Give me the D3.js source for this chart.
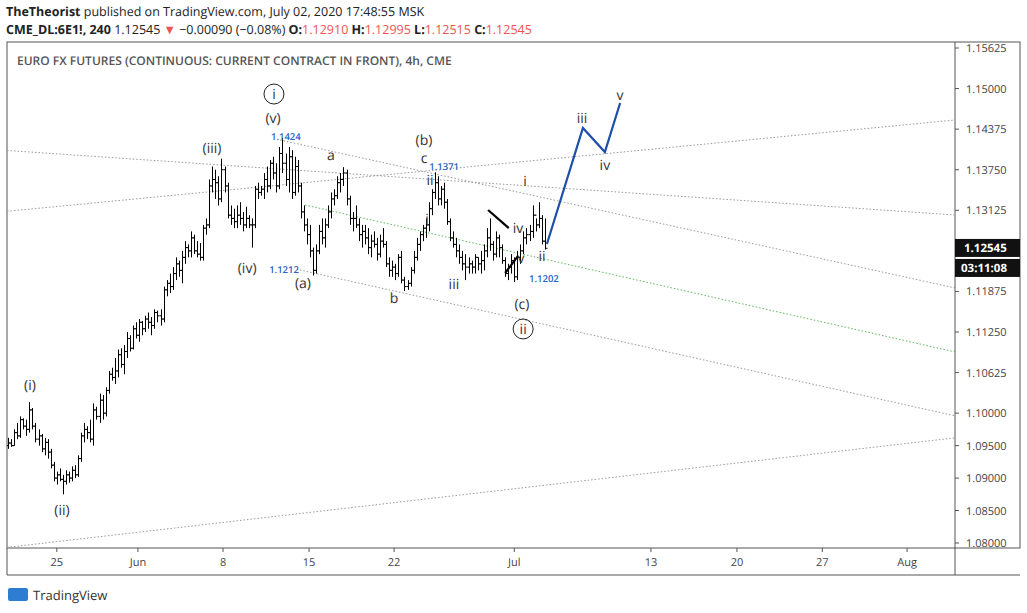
<!DOCTYPE html>
<html><head><meta charset="utf-8">
<script src="https://cdn.jsdelivr.net/npm/d3@7"></script>
<style>
body{margin:0;background:#fff;font-family:"Open Sans",sans-serif}
text{text-rendering:geometricPrecision}
</style></head>
<body><svg id="c" width="1027" height="613"></svg>
<script>
// bars in pips: [high, low, close]; open = previous close
var bars = [
[10962,10945,10954],[10960,10948,10950],[10975,10950,10970],[10985,10960,10965],[10995,10962,10990],[10992,10975,10980],[10990,10965,10975],[11017,10970,11005],
[11008,10975,10980],[10985,10955,10960],[10975,10950,10965],[10968,10940,10945],[10962,10935,10955],[10960,10930,10940],[10945,10915,10920],[10925,10895,10900],
[10910,10890,10905],[10915,10895,10898],[10905,10875,10895],[10912,10890,10905],[10910,10893,10900],[10918,10895,10912],[10920,10900,10905],[10935,10902,10930],
[10970,10925,10965],[10985,10955,10975],[10980,10960,10970],[10990,10955,10960],[11015,10950,11005],[11010,10990,10995],[11030,10985,11020],[11028,10990,11000],
[11040,10995,11035],[11065,11030,11060],[11070,11050,11055],[11085,11045,11065],[11098,11055,11090],[11100,11070,11075],[11105,11060,11095],[11125,11085,11115],
[11120,11095,11100],[11135,11098,11130],[11140,11115,11120],[11145,11110,11140],[11142,11120,11130],[11150,11125,11145],[11155,11130,11140],[11148,11120,11135],
[11160,11130,11155],[11158,11140,11150],[11160,11135,11145],[11195,11140,11190],[11205,11180,11200],[11215,11185,11195],[11225,11190,11215],[11240,11205,11230],
[11235,11210,11220],[11250,11200,11240],[11265,11230,11255],[11260,11240,11250],[11280,11240,11270],[11275,11245,11250],[11265,11240,11245],[11262,11235,11240],
[11290,11235,11285],[11300,11275,11290],[11360,11285,11350],[11380,11340,11360],[11375,11330,11355],[11365,11320,11330],[11392,11325,11375],[11380,11340,11350],
[11355,11300,11305],[11320,11290,11300],[11315,11285,11295],[11320,11285,11305],[11325,11290,11300],[11310,11280,11290],[11318,11285,11300],[11305,11285,11290],
[11300,11255,11290],[11350,11285,11345],[11355,11330,11340],[11350,11335,11345],[11370,11330,11360],[11380,11340,11350],[11390,11345,11385],[11395,11360,11370],
[11385,11340,11350],[11410,11345,11400],[11424,11370,11385],[11400,11350,11360],[11410,11340,11395],[11405,11330,11340],[11395,11335,11380],[11390,11340,11350],
[11355,11300,11310],[11320,11280,11290],[11300,11260,11275],[11290,11240,11250],[11255,11212,11220],[11260,11215,11250],[11290,11245,11280],[11300,11260,11270],
[11300,11255,11290],[11320,11285,11310],[11340,11300,11330],[11345,11320,11335],[11365,11330,11355],[11370,11340,11360],[11379,11350,11370],[11375,11320,11330],
[11335,11290,11300],[11310,11280,11300],[11320,11285,11290],[11300,11265,11275],[11290,11255,11280],[11290,11260,11270],[11285,11245,11255],[11275,11240,11265],
[11280,11255,11260],[11270,11235,11245],[11275,11240,11265],[11285,11255,11260],[11265,11225,11230],[11240,11210,11220],[11235,11210,11225],[11230,11205,11215],
[11245,11210,11240],[11250,11200,11205],[11210,11188,11195],[11205,11190,11200],[11225,11195,11220],[11250,11215,11240],[11270,11235,11260],[11280,11250,11275],
[11290,11265,11285],[11300,11270,11290],[11325,11280,11315],[11345,11305,11340],[11371,11330,11355],[11365,11320,11330],[11350,11320,11345],[11355,11315,11325],
[11330,11290,11295],[11300,11265,11270],[11280,11255,11260],[11270,11240,11250],[11260,11230,11240],[11250,11220,11230],[11245,11205,11225],[11240,11215,11230],
[11235,11215,11225],[11245,11215,11240],[11240,11220,11230],[11250,11215,11235],[11260,11220,11250],[11285,11240,11270],[11300,11250,11260],[11265,11235,11245],
[11280,11240,11270],[11275,11240,11255],[11260,11230,11235],[11240,11210,11215],[11230,11205,11225],[11245,11215,11235],[11240,11202,11210],[11250,11205,11240],
[11260,11230,11250],[11280,11245,11270],[11285,11260,11275],[11290,11265,11280],[11320,11270,11305],[11300,11280,11290],[11325,11285,11300],[11305,11260,11265],
[11300,11252,11254]
]
var firstOpen = 10950

var dateTicks = [[16,"25"],[42.6,"Jun"],[70.5,"8"],[98.7,"15"],[126.6,"22"],[166,"Jul"],[210.8,"13"],[239,"20"],[267,"27"],[294.8,"Aug"]]
var priceTicks = [1.15625,1.15,1.14375,1.1375,1.13125,1.11875,1.1125,1.10625,1.1,1.095,1.09,1.085,1.08]

// dotted channel lines [idx, price, idx, price, colour]
var trendLines = [
  [-2.6,1.14054,310.5,1.13053,"#999"],
  [-2.6,1.13099,310.5,1.14516,"#999"],
  [89.2,1.14208,310.5,1.11929,"#999"],
  [95.7,1.12206,310.5,1.09958,"#999"],
  [97.4,1.13207,310.5,1.10943,"#5cb85c"],
  [-2.6,1.07920,310.5,1.09620,"#999"]
]
var projection = [[176.7,1.12606],[188.5,1.14393],[195.7,1.14023],[200.7,1.14778]]
var triangle = [[[157.4,1.13130],[164.2,1.12850]],[[163,1.12159],[167.2,1.12420]]]

// wave labels [text, idx, price, kind]
var labels = [
  ["i",87.2,1.14916,"circle"],["(v)",86.9,1.14547],["(iii)",66.9,1.14085],["(iv)",78.4,1.12236],
  ["(i)",7.2,1.10434],["(ii)",17.7,1.08508],["a",105.9,1.13977],["(a)",96.7,1.12005],["b",126.6,1.11774],
  ["(b)",136.4,1.14200],["c",136.4,1.13931],["ii",138.4,1.13592],["i",137.4,1.12991],["iii",146.2,1.1199],
  ["iv",167.2,1.12852],["v",168.2,1.1239],["(c)",168.5,1.11682],["ii",168.9,1.11297,"circle"],
  ["i",169.5,1.13576],["ii",175.1,1.12421],["iii",188.2,1.14547],["iv",195.7,1.13823],["v",200.7,1.14901]
]
var priceTags = [["1.1424",91.1,1.14254],["1.1212",90.5,1.12205],["1.1371",143,1.13790],["1.1202",175.7,1.12067]]

var svg = d3.select("#c")
var L = 7, R = 955, B = 548
var x = d3.scaleLinear().domain([-0.33, 310.5]).range([L, R])
var y = d3.scaleLinear().domain([1.08, 1.15625]).range([543, 48])

// header
var hd = svg.append("text").attr("x", 6).attr("y", 16).attr("font-size", 12.5).attr("fill", "#222")
hd.append("tspan").attr("font-weight", "bold").text("TheTheorist")
hd.append("tspan").text(" published on TradingView.com, July 02, 2020 17:48:55 MSK")
var h2 = svg.append("text").attr("x", 6).attr("y", 34).attr("font-size", 12.5).attr("fill", "#222")
h2.append("tspan").attr("font-weight", "bold").text("CME_DL:6E1!, 240")
h2.append("tspan").text(" 1.12545 ")
h2.append("tspan").attr("fill", "#ef5350").text("▼")
h2.append("tspan").text(" −0.00090 (−0.08%) ")
;[["O:","1.12910"],["H:","1.12995"],["L:","1.12515"],["C:","1.12545"]].forEach(function (d) {
  h2.append("tspan").attr("font-weight", "bold").text(" " + d[0])
  h2.append("tspan").attr("fill", "#ef5350").text(d[1])
})

// frame
svg.append("rect").attr("x", L).attr("y", 42).attr("width", 1020 - L).attr("height", B - 42).attr("fill", "none").attr("stroke", "#555")
svg.append("line").attr("x1", R).attr("x2", R).attr("y1", 42).attr("y2", 575).attr("stroke", "#555")
svg.append("line").attr("x1", L).attr("x2", L).attr("y1", B).attr("y2", 575).attr("stroke", "#555")
svg.append("line").attr("x1", L).attr("x2", 1020).attr("y1", 575).attr("y2", 575).attr("stroke", "#555")
svg.append("text").attr("x", 17).attr("y", 65).attr("font-size", 12).attr("font-weight", 600).attr("fill", "#555")
  .text("EURO FX FUTURES (CONTINUOUS: CURRENT CONTRACT IN FRONT), 4h, CME")

// axes
var ya = svg.append("g").attr("font-size", 11).attr("fill", "#444")
priceTicks.forEach(function (p) {
  ya.append("line").attr("x1", R).attr("x2", R + 4).attr("y1", y(p)).attr("y2", y(p)).attr("stroke", "#555")
  ya.append("text").attr("x", 966).attr("y", y(p) + 4).text(p.toFixed(5))
})
var xa = svg.append("g").attr("font-size", 11).attr("fill", "#444").attr("text-anchor", "middle")
dateTicks.forEach(function (d) {
  xa.append("line").attr("x1", x(d[0])).attr("x2", x(d[0])).attr("y1", B).attr("y2", B + 4).attr("stroke", "#555")
  xa.append("text").attr("x", x(d[0])).attr("y", B + 18).text(d[1])
})

// trend lines
svg.append("clipPath").attr("id", "pc").append("rect").attr("x", L).attr("y", 42).attr("width", R - L).attr("height", B - 42)
var g = svg.append("g").attr("clip-path", "url(#pc)")
trendLines.forEach(function (d) {
  g.append("line").attr("x1", x(d[0])).attr("y1", y(d[1])).attr("x2", x(d[2])).attr("y2", y(d[3]))
    .attr("stroke", d[4]).attr("stroke-dasharray", "1.5,2").attr("stroke-width", 1)
})

// OHLC bars
bars.forEach(function (b, i) {
  var o = i ? bars[i - 1][2] : firstOpen
  var cx = Math.round(x(i)) + 0.5
  g.append("line").attr("x1", cx).attr("x2", cx).attr("y1", y(b[0] / 10000)).attr("y2", y(b[1] / 10000)).attr("stroke", "#000")
  g.append("line").attr("x1", cx - 2).attr("x2", cx).attr("y1", y(o / 10000)).attr("y2", y(o / 10000)).attr("stroke", "#000")
  g.append("line").attr("x1", cx).attr("x2", cx + 2).attr("y1", y(b[2] / 10000)).attr("y2", y(b[2] / 10000)).attr("stroke", "#000")
})

triangle.forEach(function (s) {
  g.append("line").attr("x1", x(s[0][0])).attr("y1", y(s[0][1])).attr("x2", x(s[1][0])).attr("y2", y(s[1][1]))
    .attr("stroke", "#000").attr("stroke-width", 2.2)
})
g.append("path").attr("d", d3.line().x(function (d) { return x(d[0]) }).y(function (d) { return y(d[1]) })(projection))
  .attr("fill", "none").attr("stroke", "#1e4fa8").attr("stroke-width", 2.2)

// labels
labels.forEach(function (d) {
  g.append("text").attr("x", x(d[1])).attr("y", y(d[2])).attr("dy", "0.35em").attr("text-anchor", "middle")
    .attr("font-size", 14).attr("fill", "#333").text(d[0])
  if (d[3] === "circle") {
    g.append("circle").attr("cx", x(d[1])).attr("cy", y(d[2])).attr("r", 10).attr("fill", "none").attr("stroke", "#222")
  }
})
priceTags.forEach(function (d) {
  g.append("text").attr("x", x(d[1])).attr("y", y(d[2])).attr("dy", "0.35em").attr("text-anchor", "middle")
    .attr("font-size", 9.5).attr("font-weight", 600).attr("fill", "#2962c4").text(d[0])
})

// last price tags
var lp = y(1.12545)
svg.append("rect").attr("x", R).attr("y", lp - 9).attr("width", 65).attr("height", 18).attr("fill", "#111")
svg.append("text").attr("x", 964).attr("y", lp + 4).attr("font-size", 11.5).attr("font-weight", "bold").attr("fill", "#fff").text("1.12545")
svg.append("rect").attr("x", R).attr("y", lp + 11).attr("width", 65).attr("height", 18).attr("fill", "#111")
svg.append("text").attr("x", 961).attr("y", lp + 24).attr("font-size", 11.5).attr("font-weight", "bold").attr("fill", "#fff").text("03:11:08")

// logo
svg.append("rect").attr("x", 8).attr("y", 588).attr("width", 20).attr("height", 13).attr("rx", 2).attr("fill", "#2d7dd2")
svg.append("text").attr("x", 33).attr("y", 600).attr("font-size", 13).attr("fill", "#333").text("TradingView")
</script></body></html>
